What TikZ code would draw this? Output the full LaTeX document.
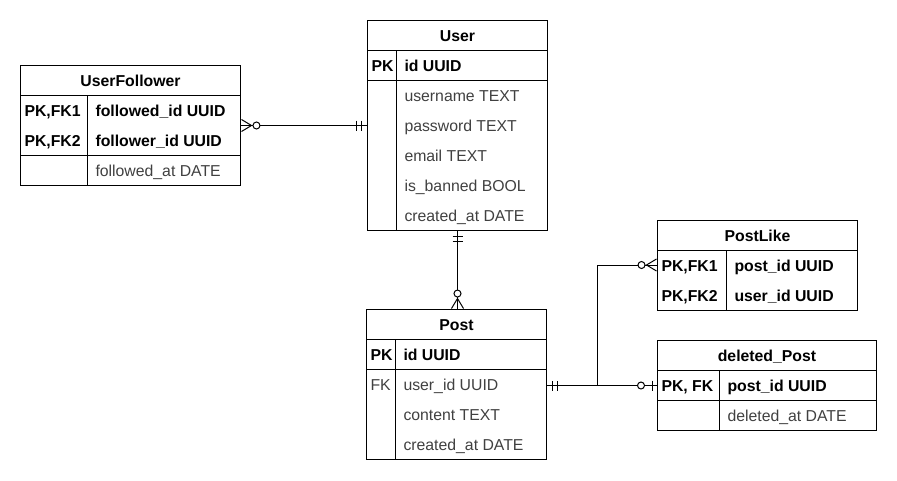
\documentclass[tikz,border=0pt]{standalone}
\usepackage{fontspec}
\setmainfont{Liberation Sans}
\usetikzlibrary{arrows.meta}

\definecolor{fldgray}{HTML}{404040}
\newcommand\erfont{\fontsize{15.8}{18}\selectfont}

\begin{document}
\begin{tikzpicture}[x=1pt,y=-1pt,line width=1pt]
   \tikzstyle{box}=[draw,rectangle,inner sep=0pt,anchor=north west]
   \tikzstyle{head}=[box,minimum height=30pt,text height=12pt,text depth=0pt,font=\erfont\bfseries]
   \tikzstyle{key}=[anchor=west,inner sep=0pt,text height=13pt,text depth=0pt,font=\erfont\bfseries]
   \tikzstyle{fld}=[anchor=west,inner sep=0pt,text height=13pt,text depth=0pt,font=\erfont,text=fldgray]
   \tikzstyle{rel}=[preaction={draw,-,shorten <=0pt,shorten >=0pt}]
   \tikzstyle{onebars}=[shorten <=5pt]
   \tikzstyle{zmany}=[-{Circle[open,fill=white,length=8pt,width=8pt]Straight Barb[reversed,length=10pt,width=12pt]}]
   \tikzstyle{zone}=[shorten >=4pt]

   \useasboundingbox (0,0) rectangle (897,480);

   % User
   \node (user) [head,minimum width=180pt] at (367,20) {User};
   \node (ukey) [box,minimum width=180pt,minimum height=30pt] at (367,50) {};
   \node (ubody) [box,minimum width=180pt,minimum height=150pt] at (367,80) {};
   \draw ([xshift=29pt]ukey.north west) -- ([xshift=29pt]ubody.south west);
   \node (upk) [key] at (371,65) {PK};
   \node (uid) [key] at (404,65) {id UUID};
   \node (uname) [fld] at (404,95) {username TEXT};
   \node (upass) [fld] at (404,125) {password TEXT};
   \node (umail) [fld] at (404,155) {email TEXT};
   \node (uban) [fld] at (404,185) {is\_banned BOOL};
   \node (ucre) [fld] at (404,215) {created\_at DATE};

   % UserFollower
   \node (uf) [head,minimum width=220pt] at (20,65) {UserFollower};
   \node (ufkey) [box,minimum width=220pt,minimum height=60pt] at (20,95) {};
   \node (ufbody) [box,minimum width=220pt,minimum height=30pt] at (20,155) {};
   \draw ([xshift=67pt]ufkey.north west) -- ([xshift=67pt]ufbody.south west);
   \node (ufk1) [key] at (24,110) {PK,FK1};
   \node (ufk2) [key] at (24,140) {PK,FK2};
   \node (ufed) [key] at (95,110) {followed\_id UUID};
   \node (ufer) [key] at (95,140) {follower\_id UUID};
   \node (ufat) [fld] at (95,170) {followed\_at DATE};

   % Post
   \node (post) [head,minimum width=180pt] at (366,309) {Post};
   \node (pkey) [box,minimum width=180pt,minimum height=30pt] at (366,339) {};
   \node (pbody) [box,minimum width=180pt,minimum height=90pt] at (366,369) {};
   \draw ([xshift=29pt]pkey.north west) -- ([xshift=29pt]pbody.south west);
   \node (ppk) [key] at (370,354) {PK};
   \node (pid) [key] at (403,354) {id UUID};
   \node (pfk) [fld] at (370,384) {FK};
   \node (puser) [fld] at (403,384) {user\_id UUID};
   \node (pcont) [fld] at (403,414) {content TEXT};
   \node (pcre) [fld] at (403,444) {created\_at DATE};

   % PostLike
   \node (pl) [head,minimum width=200pt] at (657,220) {PostLike};
   \node (plkey) [box,minimum width=200pt,minimum height=60pt] at (657,250) {};
   \draw ([xshift=69pt]plkey.north west) -- ([xshift=69pt]plkey.south west);
   \node (plr1) [key] at (661,265) {PK,FK1};
   \node (plr2) [key] at (661,295) {PK,FK2};
   \node (plpost) [key] at (734,265) {post\_id UUID};
   \node (pluser) [key] at (734,295) {user\_id UUID};

   % deleted_Post
   \node (dp) [head,minimum width=219pt] at (657,340) {deleted\_Post};
   \node (dkey) [box,minimum width=219pt,minimum height=30pt] at (657,370) {};
   \node (dbody) [box,minimum width=219pt,minimum height=30pt] at (657,400) {};
   \draw ([xshift=62pt]dkey.north west) -- ([xshift=62pt]dbody.south west);
   \node (dpk) [key] at (661,385) {PK, FK};
   \node (dpost) [key] at (727,385) {post\_id UUID};
   \node (dat) [fld] at (727,415) {deleted\_at DATE};

   % relations
   \coordinate (jn) at (597,385);
   \draw [rel,onebars,{Bar[width=10pt]Bar[width=10pt,sep=4pt]}-{Circle[open,fill=white,length=8pt,width=8pt]Straight Barb[reversed,length=10pt,width=12pt]}] (ufkey.east -| ubody.west) -- (ufkey.east);
   \draw [rel,onebars,{Bar[width=10pt]Bar[width=10pt,sep=4pt]}-{Circle[open,fill=white,length=8pt,width=8pt]Straight Barb[reversed,length=10pt,width=12pt]}] (ubody.south) -- (ubody.south |- post.north);
   \draw [rel,onebars,zone,{Bar[width=10pt]Bar[width=10pt,sep=4pt]}-{Circle[open,fill=white,length=8pt,width=8pt,sep=7pt]Bar[width=10pt]}] (dkey.west -| pbody.east) -- (dkey.west);
   \draw [rel,zmany] (jn) |- (plkey.west |- plr1);
\end{tikzpicture}
\end{document}
